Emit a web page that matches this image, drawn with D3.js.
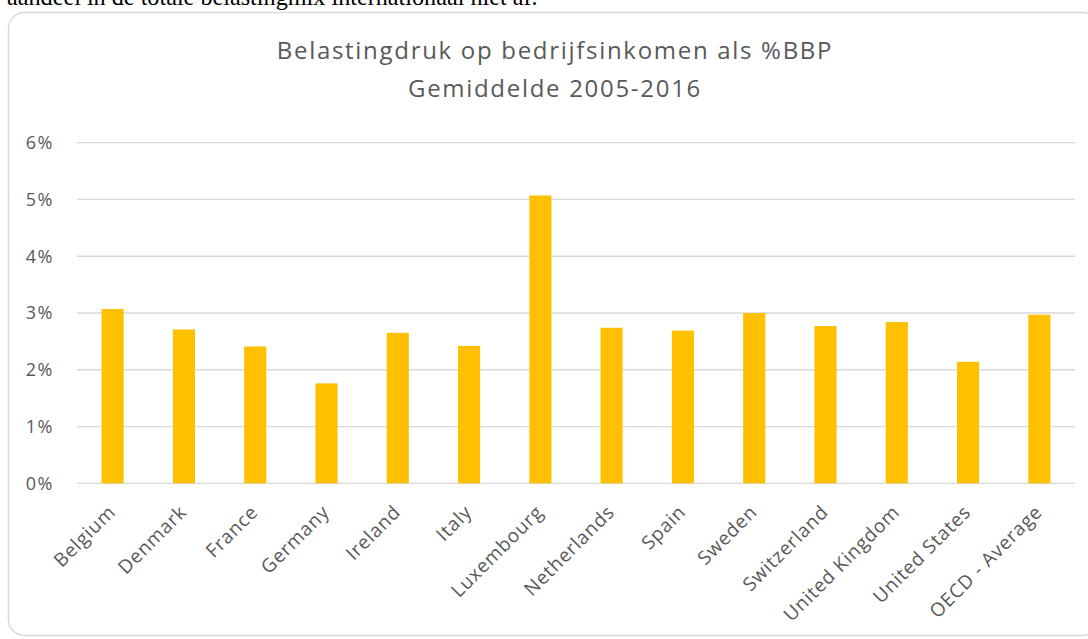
<!DOCTYPE html>
<html>
<head>
<meta charset="utf-8">
<script src="https://cdn.jsdelivr.net/npm/d3@7"></script>
<style>
  body { margin: 0; background: #fff; }
  svg { display: block; }
</style>
</head>
<body>
<script>
var countries = ["Belgium", "Denmark", "France", "Germany", "Ireland", "Italy", "Luxembourg",
  "Netherlands", "Spain", "Sweden", "Switzerland", "United Kingdom", "United States", "OECD - Average"];
var values = [3.07, 2.71, 2.41, 1.76, 2.65, 2.42, 5.07, 2.74, 2.69, 3.0, 2.77, 2.84, 2.14, 2.97];
var yTicks = [0, 1, 2, 3, 4, 5, 6];
var titleLines = ["Belastingdruk op bedrijfsinkomen als %BBP", "Gemiddelde 2005-2016"];

var width = 1088, height = 639;
var plotLeft = 77, plotRight = 1075, plotTop = 142.7, plotBottom = 483.3;

var svg = d3.select("body").append("svg")
  .attr("width", width)
  .attr("height", height);

// leftover text of the surrounding document
svg.append("text")
  .attr("x", 7)
  .attr("y", 5)
  .attr("font-family", "Liberation Serif, serif")
  .attr("font-size", 24.2)
  .attr("fill", "#000")
  .text("aandeel in de totale belastingmix internationaal niet af.");

svg.append("rect")
  .attr("x", 8.5)
  .attr("y", 12.5)
  .attr("width", 1090)
  .attr("height", 623)
  .attr("rx", 16)
  .attr("fill", "#fff")
  .attr("stroke", "#d9d9d9")
  .attr("stroke-width", 1.5);

var x = d3.scaleBand()
  .domain(countries)
  .range([plotLeft, plotRight])
  .paddingInner(0.69)
  .paddingOuter(0.345);

var y = d3.scaleLinear()
  .domain([0, 6])
  .range([plotBottom, plotTop]);

var font = "'Open Sans', sans-serif";

svg.append("g").selectAll("line")
  .data(yTicks)
  .enter().append("line")
  .attr("x1", plotLeft)
  .attr("x2", plotRight)
  .attr("y1", function(d) { return y(d); })
  .attr("y2", function(d) { return y(d); })
  .attr("stroke", "#d9d9d9")
  .attr("stroke-width", 1.3);

svg.append("g").selectAll("text")
  .data(yTicks)
  .enter().append("text")
  .attr("x", 54)
  .attr("y", function(d) { return y(d); })
  .attr("dy", "0.36em")
  .attr("text-anchor", "end")
  .attr("font-family", font)
  .attr("font-size", 18)
  .attr("letter-spacing", 1.5)
  .attr("fill", "#595959")
  .text(function(d) { return d + "%"; });

svg.append("g").selectAll("rect")
  .data(values)
  .enter().append("rect")
  .attr("x", function(d, i) { return x(countries[i]); })
  .attr("width", x.bandwidth())
  .attr("y", function(d) { return y(d); })
  .attr("height", function(d) { return y(0) - y(d); })
  .attr("fill", "#ffc000");

svg.append("g").selectAll("text")
  .data(countries)
  .enter().append("text")
  .attr("transform", function(d) {
    return "translate(" + (x(d) + x.bandwidth() / 2 + 4) + "," + (plotBottom + 30) + ") rotate(-45)";
  })
  .attr("text-anchor", "end")
  .attr("font-family", font)
  .attr("font-size", 19)
  .attr("letter-spacing", 0.8)
  .attr("fill", "#595959")
  .text(function(d) { return d; });

svg.append("g").selectAll("text")
  .data(titleLines)
  .enter().append("text")
  .attr("x", 555)
  .attr("y", function(d, i) { return 59.3 + i * 38; })
  .attr("text-anchor", "middle")
  .attr("font-family", font)
  .attr("font-size", 24)
  .attr("letter-spacing", 1.7)
  .attr("fill", "#595959")
  .text(function(d) { return d; });
</script>
</body>
</html>
